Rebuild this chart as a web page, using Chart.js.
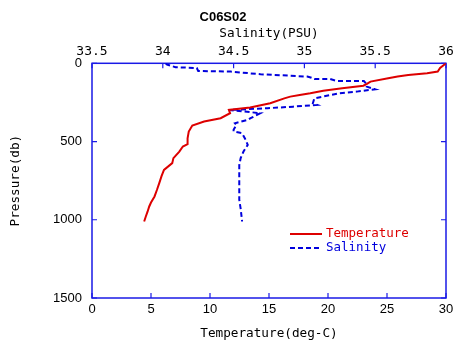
<!DOCTYPE html>
<html>
<head>
<meta charset="utf-8">
<script src="https://cdn.jsdelivr.net/npm/chart.js@4/dist/chart.umd.min.js"></script>
<style>
  html, body { margin: 0; padding: 0; background: #fff; }
</style>
</head>
<body>
<canvas id="ctd" width="456" height="347"></canvas>
<script>
// station C06S02 profile
const tempPressure = [0, 6, 30, 53, 64, 75, 85, 96, 117, 132, 143, 160, 175, 191, 202, 213, 224, 255, 283, 298, 319, 351, 372, 398, 436, 480, 517, 532, 564, 606, 638, 681, 720, 766, 810, 851, 890, 915, 950, 979, 1011];
const temperature  = [30.0, 29.9, 29.5, 29.3, 28.4, 26.8, 25.9, 25.1, 23.6, 23.3, 23.0, 21.2, 19.6, 18.5, 17.6, 16.8, 16.3, 15.1, 13.4, 11.6, 11.7, 10.9, 9.5, 8.5, 8.2, 8.1, 8.1, 7.7, 7.4, 6.9, 6.8, 6.1, 5.9, 5.7, 5.5, 5.3, 5.0, 4.85, 4.7, 4.56, 4.42];

const salPressure = [0, 8, 25, 30, 49, 53, 70, 85, 92, 100, 100, 113, 113, 134, 149, 166, 181, 191, 224, 255, 266, 277, 287, 298, 319, 351, 362, 383, 394, 425, 436, 447, 480, 521, 564, 606, 650, 723, 830, 872, 930, 1011];
const salinity    = [34.02, 34.03, 34.09, 34.24, 34.25, 34.48, 34.69, 35.02, 35.05, 35.07, 35.18, 35.23, 35.42, 35.44, 35.44, 35.50, 35.37, 35.25, 35.07, 35.06, 35.09, 34.92, 34.74, 34.47, 34.69, 34.62, 34.60, 34.51, 34.52, 34.50, 34.50, 34.56, 34.58, 34.60, 34.57, 34.55, 34.54, 34.54, 34.54, 34.54, 34.55, 34.56];

const tempTicks = { min: 0, max: 30, step: 5 };
const salTicks = { min: 33.5, max: 36, step: 0.5 };
const presTicks = { min: 0, max: 1500, step: 500 };

const RED = '#dd0000';
const BLUE = '#0000dd';
const AXIS = '#1a1ae6';
const MONO = "'DejaVu Sans Mono', monospace";
const SANS = "'Liberation Sans', Arial, sans-serif";

const pairs = (xs, ys) => xs.map((v, i) => ({ x: v, y: ys[i] }));
const plain = v => String(v);

// box with inward tick marks on all four sides
const frame = {
  id: 'frame',
  beforeDatasetsDraw(chart) {
    const { ctx, chartArea: a, scales } = chart;
    ctx.save();
    ctx.strokeStyle = AXIS;
    ctx.lineWidth = 1.5;
    ctx.strokeRect(a.left, a.top, a.right - a.left, a.bottom - a.top);
    ctx.lineWidth = 1.2;
    ctx.beginPath();
    scales.x.ticks.forEach(t => {
      const px = scales.x.getPixelForValue(t.value);
      ctx.moveTo(px, a.bottom); ctx.lineTo(px, a.bottom - 5);
    });
    scales.x2.ticks.forEach(t => {
      const px = scales.x2.getPixelForValue(t.value);
      ctx.moveTo(px, a.top); ctx.lineTo(px, a.top + 5);
    });
    scales.y.ticks.forEach(t => {
      const py = scales.y.getPixelForValue(t.value);
      ctx.moveTo(a.left, py); ctx.lineTo(a.left + 5, py);
      ctx.moveTo(a.right, py); ctx.lineTo(a.right - 5, py);
    });
    ctx.stroke();
    ctx.restore();
  }
};

// small legend inside the plot, lower right
const insideLegend = {
  id: 'insideLegend',
  afterDatasetsDraw(chart) {
    const { ctx } = chart;
    const x0 = 290, x1 = 322, y0 = 234, dy = 14;
    ctx.save();
    ctx.font = '12.5px ' + MONO;
    ctx.textBaseline = 'middle';
    chart.data.datasets.forEach((ds, i) => {
      const y = y0 + i * dy;
      ctx.strokeStyle = ds.borderColor;
      ctx.lineWidth = ds.borderWidth;
      ctx.setLineDash(ds.borderDash || []);
      ctx.beginPath();
      ctx.moveTo(x0, y); ctx.lineTo(x1, y);
      ctx.stroke();
      ctx.fillStyle = ds.borderColor;
      ctx.fillText(ds.label, 326, y);
    });
    ctx.restore();
  }
};

const noSidePad = s => { s.paddingLeft = 0; s.paddingRight = 0; };

new Chart(document.getElementById('ctd'), {
  type: 'scatter',
  data: {
    datasets: [
      {
        label: 'Temperature',
        data: pairs(temperature, tempPressure),
        xAxisID: 'x',
        showLine: true,
        borderColor: RED,
        borderWidth: 2,
        pointRadius: 0,
        tension: 0
      },
      {
        label: 'Salinity',
        data: pairs(salinity, salPressure),
        xAxisID: 'x2',
        showLine: true,
        borderColor: BLUE,
        borderWidth: 2,
        borderDash: [5, 3],
        pointRadius: 0,
        tension: 0
      }
    ]
  },
  options: {
    responsive: false,
    animation: false,
    devicePixelRatio: 1,
    layout: { padding: { left: 0, right: 10, top: 0, bottom: 0 } },
    plugins: {
      legend: { display: false },
      tooltip: { enabled: false },
      title: {
        display: true,
        text: 'C06S02',
        color: '#000',
        font: { family: SANS, size: 13, weight: 'bold' },
        padding: { top: 10, bottom: 0 }
      }
    },
    scales: {
      x: {
        type: 'linear',
        position: 'bottom',
        min: tempTicks.min,
        max: tempTicks.max,
        afterFit: s => { s.height = 49; noSidePad(s); },
        grid: { display: false, drawTicks: false },
        border: { display: false },
        ticks: { stepSize: tempTicks.step, callback: plain, color: '#000', padding: 4, font: { family: SANS, size: 13 } },
        title: {
          display: true,
          text: 'Temperature(deg-C)',
          color: '#000',
          font: { family: MONO, size: 12.7 },
          padding: { top: 0, bottom: 6 }
        }
      },
      x2: {
        type: 'linear',
        position: 'top',
        min: salTicks.min,
        max: salTicks.max,
        afterFit: s => { s.height = 37.7; noSidePad(s); },
        grid: { display: false, drawTicks: false },
        border: { display: false },
        ticks: { stepSize: salTicks.step, callback: plain, color: '#000', padding: 4, font: { family: MONO, size: 13 } },
        title: {
          display: true,
          text: 'Salinity(PSU)',
          color: '#000',
          font: { family: MONO, size: 12.7 },
          padding: { top: 0, bottom: 0 }
        }
      },
      y: {
        type: 'linear',
        reverse: true,
        min: presTicks.min,
        max: presTicks.max,
        afterFit: s => { s.width = 92; s.paddingTop = 0; s.paddingBottom = 0; },
        grid: { display: false, drawTicks: false },
        border: { display: false },
        ticks: { stepSize: presTicks.step, callback: plain, color: '#000', padding: 10, font: { family: SANS, size: 13 } },
        title: {
          display: true,
          text: 'Pressure(db)',
          color: '#000',
          font: { family: MONO, size: 12.7 },
          padding: { top: 8, bottom: 0 }
        }
      }
    }
  },
  plugins: [frame, insideLegend]
});
</script>
</body>
</html>
